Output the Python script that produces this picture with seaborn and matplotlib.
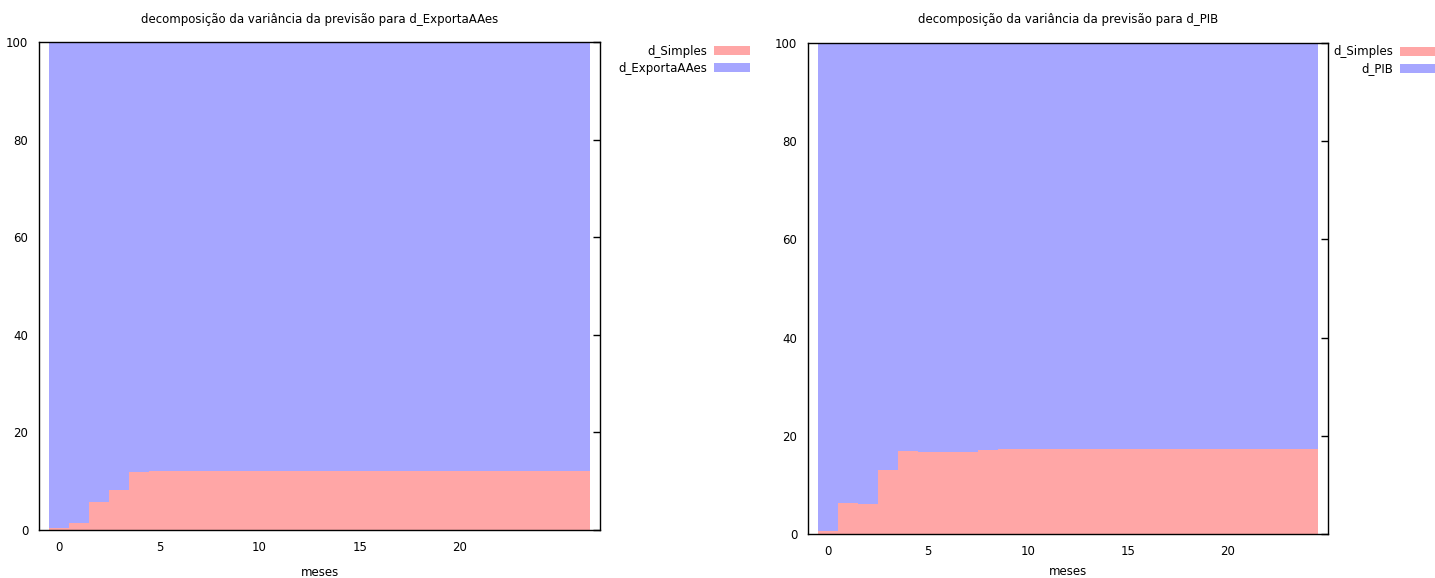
import numpy as np
import pandas as pd
import seaborn as sns
import matplotlib.pyplot as plt

sns.set_style("white")
plt.rcParams['font.family'] = ['DejaVu Sans']
plt.rcParams['text.color'] = 'black'
plt.rcParams['xtick.color'] = 'black'
plt.rcParams['ytick.color'] = 'black'
plt.rcParams['axes.labelcolor'] = 'black'

# forecast variance decomposition, share (%) explained by d_Simples
meses_exp = list(range(27))
simples_exp = [0.35, 1.4, 5.7, 8.1, 11.8, 11.95, 12.05, 12.1, 12.1, 12.1,
               12.1, 12.1, 12.1, 12.1, 12.1, 12.1, 12.1, 12.1, 12.1, 12.1,
               12.1, 12.1, 12.1, 12.1, 12.1, 12.1, 12.1]
exporta_exp = [100 - v for v in simples_exp]

meses_pib = list(range(25))
simples_pib = [0.7, 6.4, 6.2, 13.1, 16.9, 16.8, 16.75, 16.8, 17.15, 17.35,
               17.35, 17.35, 17.35, 17.35, 17.35, 17.35, 17.35, 17.35, 17.35,
               17.35, 17.35, 17.35, 17.35, 17.35, 17.35]
pib_pib = [100 - v for v in simples_pib]

titles = ['decomposição da variância da previsão para d_ExportaAAes',
          'decomposição da variância da previsão para d_PIB']
other_names = ['d_ExportaAAes', 'd_PIB']

RED = '#ffa6a6'
BLUE = '#a6a6ff'

fig = plt.figure(figsize=(14.35, 5.78), dpi=100)
ax1 = fig.add_axes([0.0274, 0.0836, 0.3907, 0.8433])
ax2 = fig.add_axes([0.5633, 0.0756, 0.3620, 0.8505])

panels = [(ax1, meses_exp, simples_exp, exporta_exp, 1.267, 9),
          (ax2, meses_pib, simples_pib, pib_pib, 1.207, 5)]

for i, (ax, h, red, blue, leg_x, lpad) in enumerate(panels):
    df = pd.DataFrame({'h': h, 'red': red, 'blue': blue})
    df['total'] = df['red'] + df['blue']
    sns.barplot(data=df, x='h', y='total', native_scale=True, width=1,
                color=BLUE, saturation=1, linewidth=0, ax=ax,
                label=other_names[i])
    sns.barplot(data=df, x='h', y='red', native_scale=True, width=1,
                color=RED, saturation=1, linewidth=0, ax=ax,
                label='d_Simples')
    ax.set_xlim(-1, len(h))
    ax.set_ylim(0, 100)
    ax.set_xticks([0, 5, 10, 15, 20])
    ax.set_yticks([0, 20, 40, 60, 80, 100])
    ax.tick_params(direction='in', length=5, width=1, top=True, right=True,
                   labelsize=8.5, pad=8)
    ax.tick_params(axis='y', pad=8)
    for s in ax.spines.values():
        s.set_color('black')
        s.set_linewidth(1)
    ax.set_title(titles[i], fontsize=8.5, pad=14)
    ax.set_xlabel('meses', fontsize=8.5, labelpad=lpad)
    ax.set_ylabel('')
    handles, labels = ax.get_legend_handles_labels()
    ax.legend(handles[::-1], labels[::-1], loc='upper right',
              bbox_to_anchor=(leg_x, 0.995), frameon=False, markerfirst=False,
              fontsize=8.5, handlelength=3.0, handleheight=0.8,
              borderpad=0, borderaxespad=0, labelspacing=0.35,
              handletextpad=0.6)

fig.savefig('out.png', dpi=100)
